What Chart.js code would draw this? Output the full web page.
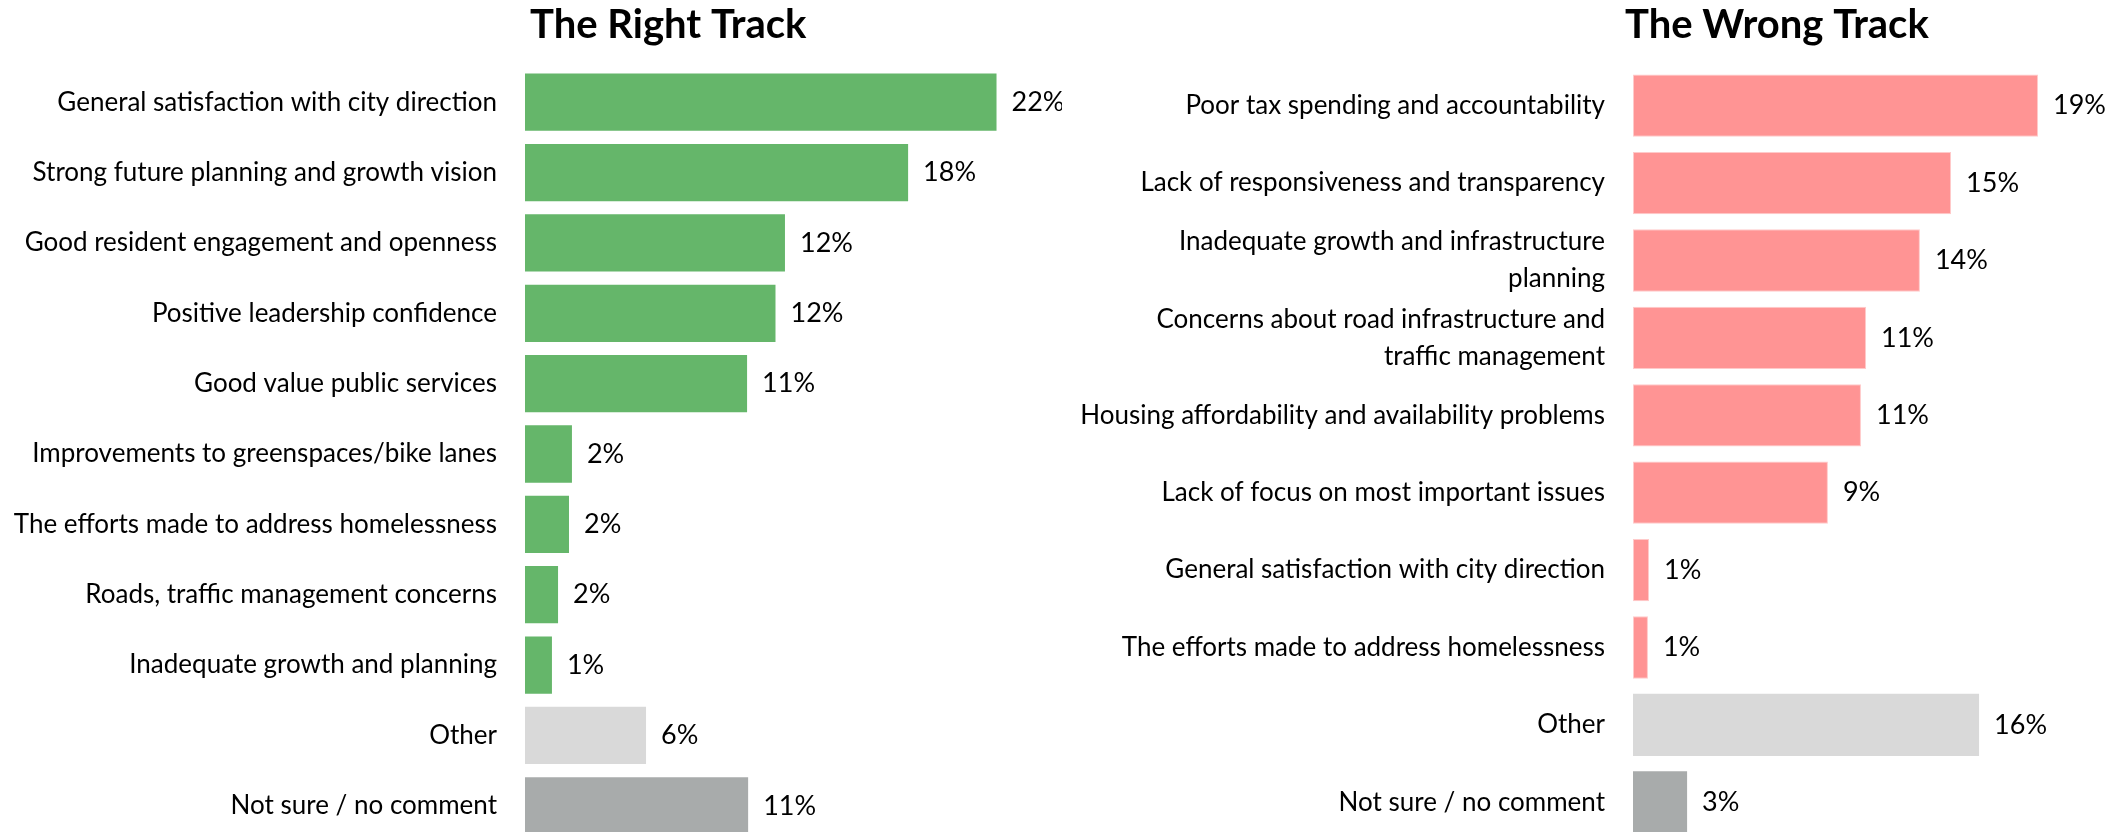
<!DOCTYPE html>
<html><head><meta charset="utf-8">
<script src="https://cdn.jsdelivr.net/npm/chart.js@4.4.1/dist/chart.umd.min.js"></script>
<style>
html,body{margin:0;padding:0;background:#fff;overflow:hidden;}
#wrap{position:relative;width:2124px;height:832px;overflow:hidden;background:#fff;}
.box{position:absolute;top:0;}
#leftBox{left:0;}
#rightBox{left:1062px;}
</style></head><body>
<div id="wrap">
<div class="box" id="leftBox"><canvas id="c1" width="1062" height="841"></canvas></div>
<div class="box" id="rightBox"><canvas id="c2" width="1062" height="841"></canvas></div>
</div>
<script>
// ---- data ----
const leftTitle = 'The Right Track';
const leftLabels = ['General satisfaction with city direction','Strong future planning and growth vision','Good resident engagement and openness','Positive leadership confidence','Good value public services','Improvements to greenspaces/bike lanes','The efforts made to address homelessness','Roads, traffic management concerns','Inadequate growth and planning','Other','Not sure / no comment'];
const leftValues = [22.4, 18.2, 12.35, 11.9, 10.55, 2.23, 2.09, 1.57, 1.28, 5.75, 10.6];
const leftValueText = ['22%','18%','12%','12%','11%','2%','2%','2%','1%','6%','11%'];

const rightTitle = 'The Wrong Track';
const rightLabels = ['Poor tax spending and accountability','Lack of responsiveness and transparency',['Inadequate growth and infrastructure','planning'],['Concerns about road infrastructure and','traffic management'],'Housing affordability and availability problems','Lack of focus on most important issues','General satisfaction with city direction','The efforts made to address homelessness','Other','Not sure / no comment'];
const rightValues = [19.24, 15.11, 13.63, 11.07, 10.83, 9.26, 0.76, 0.71, 16.44, 2.57];
const rightValueText = ['19%','15%','14%','11%','11%','9%','1%','1%','16%','3%'];

// ---- style ----
const FONT = 'Lato';
const GREEN = '#65b66a', PINK = '#ff9494', PINK_EDGE = '#ffcaca', LIGHT = '#d9d9d9', DARK = '#a8abab';

const valueLabels = {
  id: 'valueLabels',
  afterDatasetsDraw(chart, args, opts) {
    const ctx = chart.ctx;
    const meta = chart.getDatasetMeta(0);
    ctx.save();
    ctx.font = opts.font;
    ctx.fillStyle = opts.color;
    ctx.textAlign = 'left';
    ctx.textBaseline = 'middle';
    meta.data.forEach((bar, i) => {
      ctx.fillText(opts.texts[i], bar.x + opts.offset, bar.y + opts.dy);
    });
    ctx.restore();
  }
};
const titleShift = {
  id: 'titleShift',
  afterLayout(chart, args, opts) {
    const tb = chart.titleBlock;
    if (tb) { tb.left += opts.dx; tb.right += opts.dx; }
  }
};

function makeChart(id, title, labels, values, texts, colors, borders, yWidth, xMax, padRight, barPct, titleDx) {
  return new Chart(document.getElementById(id), {
    type: 'bar',
    data: {
      labels: labels,
      datasets: [{
        data: values,
        backgroundColor: colors,
        borderColor: borders,
        borderWidth: borders.map(b => b ? 1 : 0),
        borderSkipped: false,
        barPercentage: barPct,
        categoryPercentage: 1.0
      }]
    },
    options: {
      indexAxis: 'y',
      responsive: false,
      animation: false,
      layout: { padding: { top: 0, right: padRight, bottom: 0, left: 0 } },
      scales: {
        x: { display: false, min: 0, max: xMax },
        y: {
          grid: { display: false, drawTicks: false },
          border: { display: false },
          ticks: {
            color: '#000',
            padding: 28,
            autoSkip: false,
            font: { family: FONT, size: 26, lineHeight: '37px' }
          },
          afterFit(s) { s.width = yWidth; s.paddingTop = 0; s.paddingBottom = 0; }
        }
      },
      plugins: {
        legend: { display: false },
        tooltip: { enabled: false },
        title: {
          display: true,
          text: title,
          align: 'start',
          fullSize: false,
          color: '#000',
          font: { family: FONT, size: 40, weight: 'bold', lineHeight: '40px' },
          padding: { top: 5.4, bottom: 21.6 }
        },
        titleShift: { dx: titleDx },
        valueLabels: { texts: texts, font: '27px ' + FONT, color: '#000', offset: 15, dy: 0 }
      }
    },
    plugins: [valueLabels, titleShift]
  });
}

const leftColors = leftLabels.map(l => l === 'Other' ? LIGHT : (l === 'Not sure / no comment' ? DARK : GREEN));
const rightColors = rightLabels.map(l => l === 'Other' ? LIGHT : (l === 'Not sure / no comment' ? DARK : PINK));
const rightBorders = rightColors.map(c => c === PINK ? PINK_EDGE : null);

makeChart('c1', leftTitle, leftLabels, leftValues, leftValueText, leftColors, leftLabels.map(() => null), 525, 25, 10.75, 0.814, 5);
makeChart('c2', rightTitle, rightLabels, rightValues, rightValueText, rightColors, rightBorders, 571, 23, 6.85, 0.805, -8);
</script>
</body></html>
